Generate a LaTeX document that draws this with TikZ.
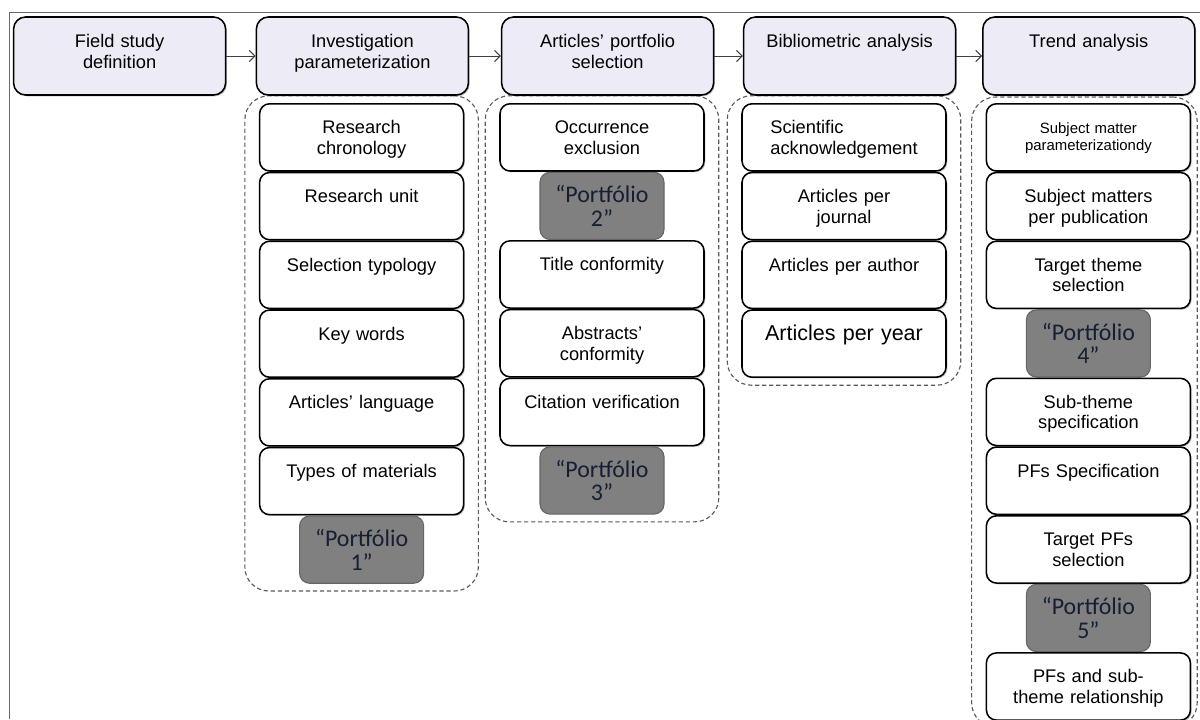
\documentclass[tikz,border=0pt]{standalone}
\usepackage{fontspec}
\setmainfont{Liberation Sans}
\newfontfamily\portfont{Carlito}
\usepackage{xcolor}
\usepackage{tikz}
\usetikzlibrary{arrows.meta, positioning, shadows}
\usetikzlibrary{fit, backgrounds}
\definecolor{headfill}{RGB}{237,235,246}
\definecolor{portfill}{RGB}{128,128,128}
\definecolor{porttext}{RGB}{22,30,52}
\definecolor{framegray}{RGB}{105,105,105}

\begin{document}
\begin{tikzpicture}[font=\fontsize{13}{14.6}\selectfont, >={Straight Barb[length=4pt,width=8pt]}, node distance=0pt]

% =========================
% Styles (ALL IN ONE BLOCK)
% =========================
\tikzset{
    stage/.style={draw, line width=1.1pt, rounded corners=0.3cm, fill=headfill, minimum width=5.3cm,
        text width=5.0cm, inner xsep=0.15cm, align=center, inner ysep=0pt, text height=0.77cm, text depth=1.18cm,
        drop shadow={shadow xshift=0.9pt, shadow yshift=-0.9pt, fill=gray!70, opacity=0.8}},
    task/.style={draw, line width=1.1pt, rounded corners=0.25cm, fill=white, minimum width=5.1cm,
        text width=4.8cm, inner xsep=0.15cm, align=center, inner ysep=0pt, text height=0.75cm, text depth=0.93cm,
        drop shadow={shadow xshift=0.9pt, shadow yshift=-0.9pt, fill=gray!70, opacity=0.8}},
    port/.style={draw=black!60, line width=0.8pt, rounded corners=0.25cm, fill=portfill, text=porttext,
        minimum width=3.1cm, minimum height=1.68cm, inner ysep=0pt, align=center,
        font=\portfont\fontsize{17}{17}\selectfont},
    group/.style={draw=black!65, line width=0.8pt, dash pattern=on 3pt off 2pt, rounded corners=0.6cm,
        inner xsep=0.35cm, inner ysep=0.18cm},
    arrow/.style={->, line width=0.7pt, color=black!75}
}

\useasboundingbox (0,0) rectangle (30,-17.975);

% =========================
% Frame
% =========================
\draw[framegray, line width=0.6pt] (0.225,-17.975) -- (0.225,-0.3) -- (30,-0.3);

% =========================
% Stages
% =========================
\node[stage] (field) at (2.99,-1.4) {Field study\\definition};
\node[stage] (invest) at (9.06,-1.4) {Investigation\\parameterization};
\node[stage] (select) at (15.19,-1.4) {Articles’ portfolio\\selection};
\node[stage] (biblio) at (21.24,-1.4) {Bibliometric analysis};
\node[stage] (trend) at (27.22,-1.4) {Trend analysis};

\foreach \a/\b in {field/invest, invest/select, select/biblio, biblio/trend} {
    \draw[arrow] (\a) -- (\b);
}

% =========================
% Investigation parameterization
% =========================
\node[task, anchor=north] (chrono) at (9.04,-2.575) {Research\\chronology};
\node[task, below=of chrono] (unit) {Research unit};
\node[task, below=of unit] (typo) {Selection typology};
\node[task, below=of typo] (keyw) {Key words};
\node[task, below=of keyw] (lang) {Articles’ language};
\node[task, below=of lang] (mater) {Types of materials};
\node[port, below=of mater] (port1) {“Portfólio\\1”};

% =========================
% Articles' portfolio selection
% =========================
\node[task, anchor=north] (occur) at (15.05,-2.575) {Occurrence\\exclusion};
\node[port, below=of occur] (port2) {“Portfólio\\2”};
\node[task, below=of port2] (title) {Title conformity};
\node[task, below=of title] (abstr) {Abstracts’\\conformity};
\node[task, below=of abstr] (cite) {Citation verification};
\node[port, below=of cite] (port3) {“Portfólio\\3”};

% =========================
% Bibliometric analysis
% =========================
\node[task, anchor=north] (sciack) at (21.1,-2.575) {\begin{tabular}[t]{@{}l@{}}Scientific\\acknowledgement\end{tabular}};
\node[task, below=of sciack] (perjour) {Articles per\\journal};
\node[task, below=of perjour] (perauth) {Articles per author};
\node[task, below=of perauth, font=\fontsize{15.3}{17}\selectfont] (peryear) {Articles per year};

% =========================
% Trend analysis
% =========================
\node[task, anchor=north, font=\fontsize{10.6}{11.6}\selectfont] (subjpar) at (27.21,-2.575) {Subject matter\\parameterizationdy};
\node[task, below=of subjpar] (subjpub) {Subject matters\\per publication};
\node[task, below=of subjpub] (target) {Target theme\\selection};
\node[port, below=of target] (port4) {“Portfólio\\4”};
\node[task, below=of port4] (subtheme) {Sub-theme\\specification};
\node[task, below=of subtheme] (pfspec) {PFs Specification};
\node[task, below=of pfspec] (targetpf) {Target PFs\\selection};
\node[port, below=of targetpf] (port5) {“Portfólio\\5”};
\node[task, below=of port5] (pfrel) {PFs and sub-\\theme relationship};

% =========================
% Dashed groups
% =========================
\begin{scope}[on background layer]
    \node[group, fit=(chrono)(port1)] (grp1) {};
    \node[group, fit=(occur)(port3)] (grp2) {};
    \node[group, fit=(sciack)(peryear)] (grp3) {};
    \node[group, fit=(subjpar)(pfrel), inner xsep=0.25cm, inner ysep=0.15cm, xshift=-0.1cm] (grp4) {};
\end{scope}

\end{tikzpicture}
\end{document}
